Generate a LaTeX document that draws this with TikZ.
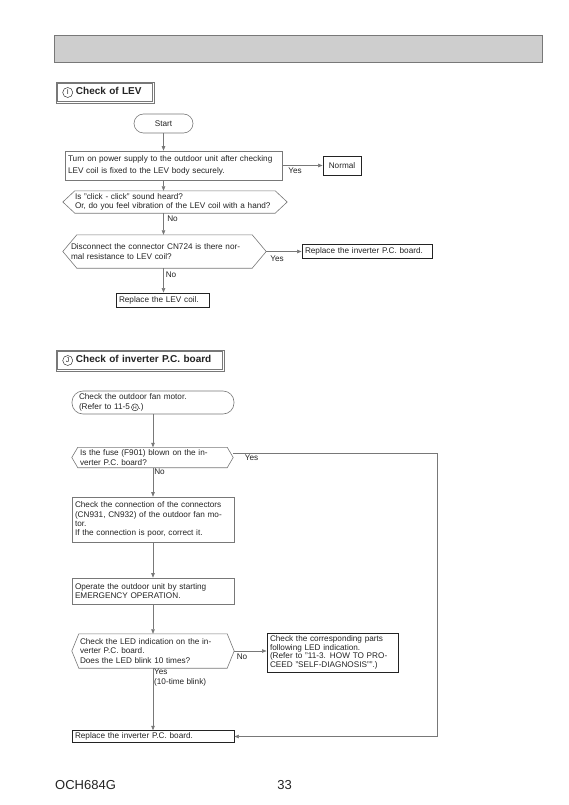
\documentclass[tikz,border=0pt]{standalone}
\usepackage{fontspec}
\setmainfont{Liberation Sans}
\usetikzlibrary{arrows.meta}

\definecolor{linegray}{RGB}{120,120,120}
\definecolor{bargray}{RGB}{206,206,206}
\definecolor{inkgray}{RGB}{35,35,35}
\newcommand{\bodyfont}{\fontsize{8.2}{9.2}\selectfont}
% hexagon drawn round a plain node
\newcommand{\hexframe}[2]{\draw[draw=linegray, line width=0.6pt] (#1.west) -- ([xshift=#2]#1.north west) -- ([xshift=-#2]#1.north east) -- (#1.east) -- ([xshift=-#2]#1.south east) -- ([xshift=#2]#1.south west) -- cycle;}
% inner line of a heading frame
\newcommand{\innerframe}[1]{\draw[draw=linegray, line width=0.5pt] ([xshift=2pt,yshift=-2pt]#1.north west) rectangle ([xshift=-2pt,yshift=2pt]#1.south east);}
% letter in a circle
\newcommand{\circled}[3]{\tikz[baseline=(circ.base)]\node[circle, draw=inkgray, line width=0.45pt, inner sep=0pt, minimum size=#1, font=\mdseries\fontsize{#2}{#2}\selectfont] (circ) {#3};}

\tikzset{
	box/.style={draw=linegray, line width=0.6pt, inner xsep=3pt, inner ysep=0pt,
		align=left, font=\bodyfont, text=inkgray},
	darkbox/.style={box, draw=inkgray, line width=0.9pt},
	hexa/.style={inner ysep=0pt, align=left, font=\bodyfont, text=inkgray},
	hdr/.style={draw=linegray, line width=0.6pt, inner xsep=6.5pt, inner ysep=0pt,
		align=left, text=inkgray, font=\bfseries\fontsize{10}{12}\selectfont},
	lbl/.style={inner sep=0pt, font=\bodyfont, text=inkgray},
	arr/.style={draw=linegray, line width=0.6pt, -{Triangle[length=4.5pt,width=3.5pt]}}
}

\begin{document}
\begin{tikzpicture}[x=1pt,y=-1pt]
\useasboundingbox (0,0) rectangle (569,805);

% title bar
\draw[draw=linegray, fill=bargray, line width=0.8pt] (54,35) rectangle (542,62);

% I: LEV
\node[hdr, text width=85pt, minimum height=21pt] (hdrI) at (105,92.5) {\circled{10pt}{7}{I}\hspace{3pt}Check of LEV};
\innerframe{hdrI}

\node[box, rounded corners=9.5pt, minimum width=59pt, minimum height=19pt, align=center] (start) at (163.5,123.5) {Start};
\node[box, text width=211pt, minimum height=29pt] (turn) at (173.5,165.5)
	{Turn on power supply to the outdoor unit after checking\\[2.5pt]LEV coil is fixed to the LEV body securely.};
\node[darkbox, minimum width=38pt, minimum height=19pt, align=center] (normal) at (342,165.5) {Normal};
\node[hexa, text width=200pt, inner xsep=12pt, minimum height=22pt] (click) at (175,202)
	{Is "click - click" sound heard?\\Or, do you feel vibration of the LEV coil with a hand?};
\hexframe{click}{12pt}
\node[hexa, text width=187pt, inner xsep=8pt, minimum height=33pt] (cn) at (164.5,251.5)
	{Disconnect the connector CN724 is there nor-\\mal resistance to LEV coil?};
\hexframe{cn}{14pt}
\node[darkbox, text width=124pt, minimum height=14pt] (rpcb) at (367,251.5) {Replace the inverter P.C. board.};
\node[darkbox, text width=87pt, minimum height=14pt] (coil) at (162.5,300) {Replace the LEV coil.};

\draw[arr] (start.south) -- (start.south |- turn.north);
\draw[arr] (start.south |- turn.south) -- (start.south |- click.north);
\draw[arr] (start.south |- click.south) -- (start.south |- cn.north);
\draw[arr] (start.south |- cn.south) -- (start.south |- coil.north);
\draw[arr] (turn.east) -- (normal.west);
\draw[arr] (cn.east) -- (rpcb.west);

\node[lbl] (yesturn) at (295,171) {Yes};
\node[lbl] (noclick) at (172.5,219) {No};
\node[lbl] (yescn) at (277,259) {Yes};
\node[lbl] (nocn) at (171,275) {No};

% J: inverter P.C. board
\node[hdr, text width=155pt, minimum height=21pt] (hdrJ) at (140,360.5) {\circled{10pt}{7}{J}\hspace{3pt}Check of inverter P.C. board};
\innerframe{hdrJ}

\node[box, rounded corners=11pt, text width=148pt, inner xsep=7pt, minimum height=23pt] (fan) at (153,402.5)
	{Check the outdoor fan motor.\\(Refer to 11-5\,\circled{7pt}{5}{H}.)};
\node[hexa, text width=145pt, inner xsep=8pt, minimum height=20pt] (fuse) at (152.5,457.5)
	{Is the fuse (F901) blown on the in-\\verter P.C. board?};
\hexframe{fuse}{6pt}
\node[box, text width=156pt, minimum height=45pt] (conn) at (153,519.5)
	{Check the connection of the connectors\\(CN931, CN932) of the outdoor fan mo-\\tor.\\If the connection is poor, correct it.};
\node[box, text width=156pt, minimum height=26pt] (oper) at (153,591)
	{Operate the outdoor unit by starting\\EMERGENCY OPERATION.};
\node[hexa, text width=146pt, inner xsep=8pt, minimum height=34pt] (led) at (153,651)
	{Check the LED indication on the in-\\verter P.C. board.\\Does the LED blink 10 times?};
\hexframe{led}{7pt}
\node[darkbox, text width=125pt, minimum height=39pt, font=\fontsize{8.2}{8.7}\selectfont] (parts) at (332.5,652.5)
	{Check the corresponding parts\\following LED indication.\\(Refer to "11-3. HOW TO PRO-\\CEED "SELF-DIAGNOSIS"".)};
\node[darkbox, text width=156pt, minimum height=11.5pt] (rinv) at (153,736.5) {Replace the inverter P.C. board.};

\coordinate (fusebend) at (437,453);
\draw[arr] (fan.south) -- (fan.south |- fuse.north);
\draw[arr] (fan.south |- fuse.south) -- (fan.south |- conn.north);
\draw[arr] (conn.south) -- (oper.north);
\draw[arr] (oper.south) -- (oper.south |- led.north);
\draw[arr] (oper.south |- led.south) -- (rinv.north);
\draw[arr] (led.east) -- (led.east -| parts.west);
\draw[arr] ([yshift=4.5pt]fuse.east) -- (fusebend) -- (fusebend |- rinv.east) -- (rinv.east);

\node[lbl] (yesfuse) at (251.5,458) {Yes};
\node[lbl] (nofuse) at (159.5,471.5) {No};
\node[lbl] (noled) at (242,657) {No};
\node[lbl, anchor=north west, align=left] (yesled) at (154,669) {Yes\\(10-time blink)};

% page foot
\node[anchor=west, inner sep=0pt, text=inkgray, font=\fontsize{13}{15}\selectfont] (model) at (55,785) {OCH684G};
\node[inner sep=0pt, text=inkgray, font=\fontsize{13}{15}\selectfont] (page) at (284.5,785) {33};
\end{tikzpicture}
\end{document}
